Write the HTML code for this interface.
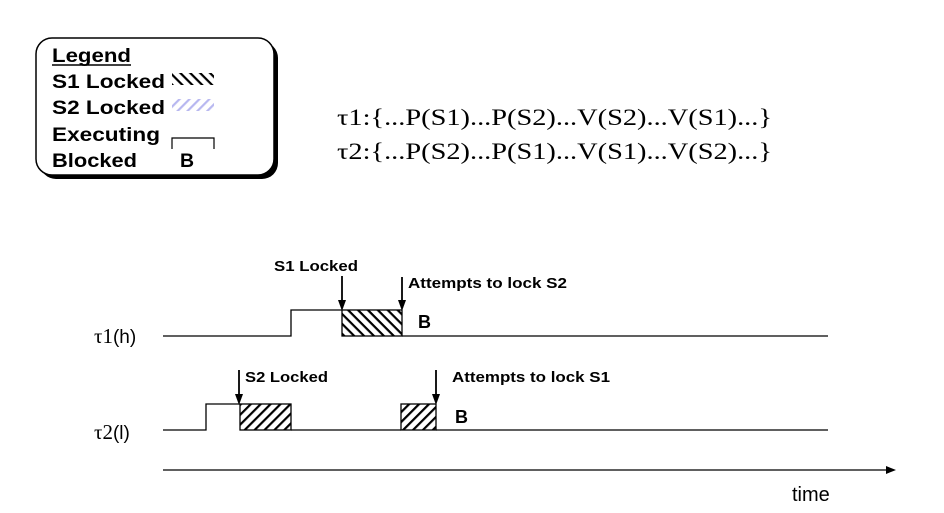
<!DOCTYPE html>
<html><head><meta charset="utf-8"><style>
html,body{margin:0;padding:0;background:#fff;}
svg{display:block;}
.b{font-family:"Liberation Sans",sans-serif;font-weight:bold;}
.t{font-family:"Liberation Serif",serif;}
</style></head><body>
<svg width="944" height="513" viewBox="0 0 944 513" xmlns="http://www.w3.org/2000/svg">
<defs>
<pattern id="h1" patternUnits="userSpaceOnUse" width="7" height="7" patternTransform="rotate(45)">
<rect width="7" height="7" fill="#fff"/><rect x="0" y="0" width="7" height="2.2" fill="#000"/></pattern>
<pattern id="h2" patternUnits="userSpaceOnUse" width="7" height="7" patternTransform="rotate(-45)">
<rect width="7" height="7" fill="#fff"/><rect x="0" y="0" width="7" height="2.2" fill="#000"/></pattern>
<pattern id="h3" patternUnits="userSpaceOnUse" width="7" height="7" patternTransform="rotate(-45)">
<rect width="7" height="7" fill="#fff"/><rect x="0" y="0" width="7" height="2.2" fill="#b8b8f0"/></pattern>
</defs>
<!-- legend -->
<rect x="40" y="42" width="238" height="137" rx="16" fill="#000"/>
<rect x="36" y="38" width="238" height="137" rx="16" fill="#fff" stroke="#000" stroke-width="1.5"/>
<g class="b" font-size="19.5">
<text x="52" y="62" textLength="79" lengthAdjust="spacingAndGlyphs">Legend</text>
<line x1="52" y1="65" x2="131" y2="65" stroke="#000" stroke-width="1.5"/>
<text x="52" y="88" textLength="113" lengthAdjust="spacingAndGlyphs">S1 Locked</text>
<text x="52" y="114" textLength="113" lengthAdjust="spacingAndGlyphs">S2 Locked</text>
<text x="52" y="141" textLength="108" lengthAdjust="spacingAndGlyphs">Executing</text>
<text x="52" y="167" textLength="85" lengthAdjust="spacingAndGlyphs">Blocked</text>
<text x="180" y="167">B</text>
</g>
<rect x="172" y="73" width="42" height="12" fill="url(#h1)"/>
<rect x="172" y="99" width="42" height="12" fill="url(#h3)"/>
<path d="M172 149 V138 H214 V149" fill="none" stroke="#000" stroke-width="1.2"/>
<!-- formulas -->
<g class="t" font-size="23">
<text x="337" y="125" textLength="435" lengthAdjust="spacingAndGlyphs">τ1:{...P(S1)...P(S2)...V(S2)...V(S1)...}</text>
<text x="337" y="159" textLength="435" lengthAdjust="spacingAndGlyphs">τ2:{...P(S2)...P(S1)...V(S1)...V(S2)...}</text>
</g>
<!-- timeline labels -->
<g font-size="21">
<text x="94" y="343"><tspan font-family="Liberation Serif,serif">τ1</tspan><tspan font-family="Liberation Sans,sans-serif" font-size="19">(h)</tspan></text>
<text x="94" y="439"><tspan font-family="Liberation Serif,serif">τ2</tspan><tspan font-family="Liberation Sans,sans-serif" font-size="19">(l)</tspan></text>
</g>
<g fill="none" stroke="#000" stroke-width="1.3">
<path d="M163 336 H291 V310 H342"/>
<path d="M402 336 H828"/>
<path d="M163 430 H206 V404 H240"/>
<path d="M291 430 H401"/>
<path d="M436 430 H828"/>
<path d="M163 470 H890"/>
</g>
<path d="M896 470 L886 466 L886 474 Z" fill="#000"/>
<rect x="342" y="310" width="60" height="26" fill="url(#h1)" stroke="#000" stroke-width="1.3"/>
<rect x="240" y="404" width="51" height="26" fill="url(#h2)" stroke="#000" stroke-width="1.3"/>
<rect x="401" y="404" width="35" height="26" fill="url(#h2)" stroke="#000" stroke-width="1.3"/>
<!-- arrows -->
<g stroke="#000" stroke-width="1.8">
<line x1="342" y1="276" x2="342" y2="302"/>
<line x1="402" y1="277" x2="402" y2="302"/>
<line x1="239" y1="370" x2="239" y2="396"/>
<line x1="436" y1="370" x2="436" y2="396"/>
</g>
<g fill="#000">
<path d="M338 300 L346 300 L342 311 Z"/>
<path d="M398 300 L406 300 L402 311 Z"/>
<path d="M235 394 L243 394 L239 405 Z"/>
<path d="M432 394 L440 394 L436 405 Z"/>
</g>
<g class="b" font-size="14.5">
<text x="274" y="271" textLength="84" lengthAdjust="spacingAndGlyphs">S1 Locked</text>
<text x="408" y="288" textLength="159" lengthAdjust="spacingAndGlyphs">Attempts to lock S2</text>
<text x="245" y="382" textLength="83" lengthAdjust="spacingAndGlyphs">S2 Locked</text>
<text x="452" y="382" textLength="158" lengthAdjust="spacingAndGlyphs">Attempts to lock S1</text>
</g>
<g class="b" font-size="18">
<text x="418" y="328">B</text>
<text x="455" y="423">B</text>
</g>
<text x="792" y="501" font-family="Liberation Sans,sans-serif" font-size="20">time</text>
</svg>
</body></html>
